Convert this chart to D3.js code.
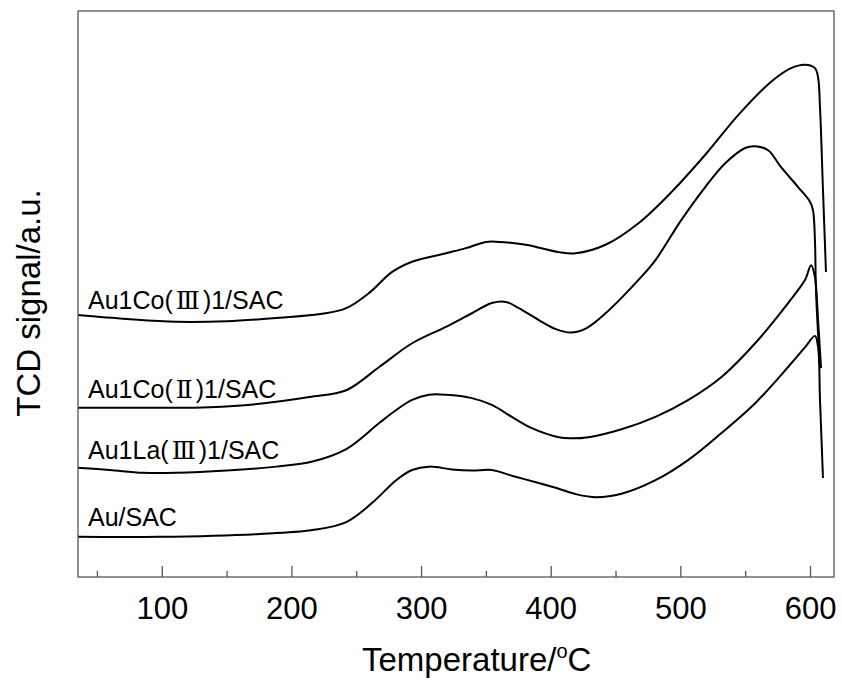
<!DOCTYPE html>
<html>
<head>
<meta charset="utf-8">
<script src="https://cdn.jsdelivr.net/npm/d3@7"></script>
<style>
  body { margin: 0; background: #fff; }
  text { font-family: "Liberation Sans", Arial, sans-serif; fill: #000; }
  .roman { font-family: "DejaVu Serif", "Liberation Serif", serif; }
</style>
</head>
<body>
<svg id="chart" width="842" height="682"></svg>
<script>
var margin = {l: 78, t: 11, r: 8, b: 105};
var W = 842, H = 682;

// temperature (°C) and TCD signal (a.u.) per sample
var coIIIT = [35.4, 73.1, 111.5, 150, 190.8, 223.8, 242.3, 260, 277.7, 293.1, 319.2, 334.6, 350, 360, 380.8, 406.2, 419.2, 442.3, 467.7, 493.1, 519.2, 544.6, 570, 585.4, 596.2, 603.8, 606.2, 607.7, 610, 612.3];
var coIIIV = [46.3, 45.6, 45.1, 45.2, 45.8, 46.5, 47.5, 50.2, 53.9, 55.7, 57.2, 58.1, 59.2, 59.2, 58.7, 57.4, 57.2, 58.7, 62.5, 68.0, 74.6, 81.6, 87.5, 89.9, 90.5, 89.9, 88.3, 83.0, 68.4, 53.9];

var coIIT = [35.4, 60, 98.5, 136.9, 175.4, 213.8, 242.3, 267.7, 293.1, 319.2, 339.2, 354.6, 365.4, 375.4, 390.8, 404, 415.4, 427, 442.3, 467.7, 480.8, 500.8, 519.2, 534.6, 550, 557.7, 567.7, 577.7, 590.8, 600, 602.3, 603.8, 604.6, 607.7];
var coIIV = [29.9, 29.9, 29.9, 30.0, 30.6, 31.8, 33.0, 37.1, 41.3, 44.2, 46.6, 48.4, 48.6, 47.5, 45.4, 43.8, 43.2, 43.9, 46.6, 52.5, 56.0, 63.1, 68.9, 73.1, 75.8, 76.1, 75.4, 72.4, 68.9, 66.3, 64.8, 59.5, 50.7, 36.9];

var laIIIT = [35.4, 60, 85.4, 111.5, 150, 188.5, 216.2, 242.3, 267.7, 280.8, 293.1, 306.2, 319.2, 339.2, 354.6, 370, 385.4, 406.2, 415, 429.2, 454.6, 480.8, 506.2, 531.5, 557.7, 583.1, 596.2, 600.8, 603.8, 606.2, 608.5];
var laIIIV = [19.3, 18.9, 18.4, 18.4, 18.8, 19.5, 20.4, 22.6, 27.2, 29.5, 31.3, 32.2, 32.2, 31.6, 30.4, 28.3, 26.3, 24.7, 24.5, 24.7, 26.1, 28.3, 31.3, 35.3, 41.3, 48.4, 52.5, 55.1, 53.0, 45.4, 36.9];

var auT = [35.4, 98.5, 175.4, 216.2, 242.3, 262.3, 280.8, 293.1, 306.2, 323.8, 339.2, 354.6, 370, 390.8, 406.2, 420, 435, 454.6, 480.8, 506.2, 531.5, 557.7, 583.1, 596.2, 603.8, 606.2, 607.7, 610];
var auV = [7.1, 7.1, 7.6, 8.3, 9.7, 13.1, 17.1, 18.9, 19.5, 19.0, 18.8, 18.9, 17.9, 16.6, 15.6, 14.6, 14.1, 14.7, 17.1, 20.7, 25.4, 30.7, 37.1, 40.6, 42.6, 40.6, 31.3, 17.5];

var seriesNames = [["Au1Co(", "\u2162", ")1/SAC"], ["Au1Co(", "\u2161", ")1/SAC"], ["Au1La(", "\u2162", ")1/SAC"], ["Au/SAC"]];
var labelLevels = [47.4, 31.6, 20.8, 9.0];
var majorTicks = [100, 200, 300, 400, 500, 600];
var minorTicks = [50, 150, 250, 350, 450, 550];

var svg = d3.select("#chart");
var plot = svg.append("g").attr("transform", "translate(" + margin.l + "," + margin.t + ")");
var w = W - margin.l - margin.r, h = H - margin.t - margin.b;

var x = d3.scaleLinear().domain([35.4, 618.5]).range([0, w]);
var y = d3.scaleLinear().domain([0, 100]).range([h, 0]);

var series = [
  {t: coIIIT, v: coIIIV},
  {t: coIIT, v: coIIV},
  {t: laIIIT, v: laIIIV},
  {t: auT, v: auV}
].map(function(s, i) {
  return {name: seriesNames[i], level: labelLevels[i], pts: s.t.map(function(d, j) { return [d, s.v[j]]; })};
});

var line = d3.line()
  .x(function(d) { return x(d[0]); })
  .y(function(d) { return y(d[1]); })
  .curve(d3.curveCatmullRom.alpha(0.5));

plot.selectAll(".curve").data(series).enter()
  .append("path")
  .attr("class", "curve")
  .attr("d", function(d) { return line(d.pts); })
  .attr("fill", "none")
  .attr("stroke", "#000")
  .attr("stroke-width", 2)
  .attr("stroke-linejoin", "round");

// frame
plot.append("rect")
  .attr("width", w).attr("height", h)
  .attr("fill", "none").attr("stroke", "#555").attr("stroke-width", 1.3);

var xAxis = plot.append("g").attr("transform", "translate(0," + h + ")")
  .call(d3.axisBottom(x).tickValues(majorTicks).tickSize(-11).tickPadding(20).tickFormat(d3.format("d")));
xAxis.select(".domain").remove();
xAxis.selectAll("line").attr("stroke", "#555").attr("stroke-width", 1.3);
xAxis.selectAll("text").attr("font-size", 31).attr("font-family", "Liberation Sans, Arial, sans-serif").attr("fill", "#000");

var xMinor = plot.append("g").attr("transform", "translate(0," + h + ")")
  .call(d3.axisBottom(x).tickValues(minorTicks).tickSize(-6).tickFormat(""));
xMinor.select(".domain").remove();
xMinor.selectAll("line").attr("stroke", "#555").attr("stroke-width", 1.3);

// series labels
var lab = plot.selectAll(".lab").data(series).enter()
  .append("text")
  .attr("class", "lab")
  .attr("x", 10)
  .attr("y", function(d) { return y(d.level); })
  .attr("font-size", 25);
lab.each(function(d) {
  var t = d3.select(this);
  d.name.forEach(function(part, i) {
    var s = t.append("tspan").text(part);
    if (i == 1) s.attr("class", "roman").attr("dx", 3);
    if (i == 2) s.attr("dx", 3);
  });
});

// axis titles
var xt = svg.append("text")
  .attr("x", 362).attr("y", 671)
  .attr("font-size", 33);
xt.append("tspan").text("Temperature/");
xt.append("tspan").attr("font-size", 20).attr("dy", -13).text("o");
xt.append("tspan").attr("dy", 13).text("C");

svg.append("text")
  .attr("transform", "translate(40,303) rotate(-90)")
  .attr("text-anchor", "middle")
  .attr("font-size", 33)
  .text("TCD signal/a.u.");
</script>
</body>
</html>
